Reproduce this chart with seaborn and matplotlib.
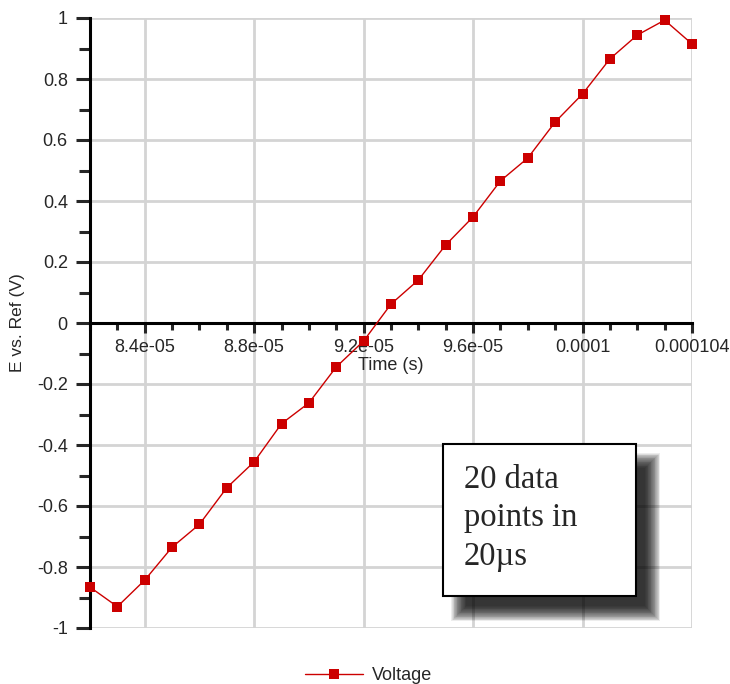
import matplotlib
matplotlib.use("Agg")
import matplotlib.pyplot as plt
from matplotlib.patches import Rectangle
from matplotlib.ticker import FixedLocator, FuncFormatter
import pandas as pd
import seaborn as sns

# values
time_s = [
    8.2e-05, 8.3e-05, 8.4e-05, 8.5e-05, 8.6e-05, 8.7e-05, 8.8e-05, 8.9e-05,
    9.0e-05, 9.1e-05, 9.2e-05, 9.3e-05, 9.4e-05, 9.5e-05, 9.6e-05, 9.7e-05,
    9.8e-05, 9.9e-05, 1.00e-04, 1.01e-04, 1.02e-04, 1.03e-04, 1.04e-04,
]
voltage = [
    -0.866, -0.930, -0.843, -0.735, -0.660, -0.540, -0.455, -0.330,
    -0.262, -0.144, -0.059, 0.062, 0.141, 0.256, 0.348, 0.466,
    0.541, 0.659, 0.751, 0.866, 0.944, 0.993, 0.915,
]
x_major = [8.4e-05, 8.8e-05, 9.2e-05, 9.6e-05, 1.0e-04, 1.04e-04]
y_major = [-1, -0.8, -0.6, -0.4, -0.2, 0, 0.2, 0.4, 0.6, 0.8, 1]
note_text = "20 data\npoints in\n20µs"

df = pd.DataFrame({"Time (s)": time_s, "Voltage": voltage})

sns.set_style("white")
plt.rcParams["font.family"] = ["Liberation Sans", "DejaVu Sans"]

fig = plt.figure(figsize=(7.3, 6.84), dpi=100)
ax = fig.add_axes([90 / 730, 56 / 684, 602 / 730, 610 / 684])

sns.lineplot(
    data=df, x="Time (s)", y="Voltage", ax=ax,
    color="#cc0000", linewidth=1.0, marker="s", markersize=7.5,
    markeredgewidth=0, label="Voltage", legend=False, zorder=5, clip_on=False,
)

ax.set_xlim(time_s[0], time_s[-1])
ax.set_ylim(-1, 1)

ax.xaxis.set_major_locator(FixedLocator(x_major))
ax.xaxis.set_minor_locator(FixedLocator(time_s))
ax.yaxis.set_major_locator(FixedLocator(y_major))
ax.yaxis.set_minor_locator(FixedLocator([v + 0.1 for v in y_major[:-1]]))
ax.xaxis.set_major_formatter(FuncFormatter(lambda v, p: f"{v:g}"))
ax.yaxis.set_major_formatter(FuncFormatter(lambda v, p: f"{round(v, 2):g}"))

for side in ["top", "right"]:
    ax.spines[side].set_visible(False)
ax.spines["bottom"].set_position(("data", 0))
for side in ["bottom", "left"]:
    ax.spines[side].set_linewidth(2.2)
    ax.spines[side].set_color("black")

ax.tick_params(axis="y", which="major", direction="out", length=10, width=2.2,
               labelsize=13, pad=6, left=True)
ax.tick_params(axis="y", which="minor", direction="out", length=8, width=2.2, left=True)
ax.tick_params(axis="x", which="major", direction="out", length=7.5, width=2.2,
               labelsize=13, pad=4, bottom=True)
ax.tick_params(axis="x", which="minor", direction="out", length=5, width=2.2, bottom=True)

ax.grid(True, which="major", color="#d4d4d4", linewidth=2)
ax.set_axisbelow(True)

ax.set_xlabel("Time (s)", fontsize=13)
ax.xaxis.set_label_coords(0.50, 0.445)
ax.set_ylabel("E vs. Ref (V)", fontsize=12.5)
ax.yaxis.set_label_coords(-0.108, 0.5)

# note box with a soft drop shadow
bx, by, bw, bh = 0.586, 0.052, 0.321, 0.25
dx, dy = 0.027, -0.028
blur = 0.026
n = 20
for i in range(n):
    inset = blur * i / n
    ax.add_patch(Rectangle(
        (bx + dx - blur / 2 + inset, by + dy - blur / 2 + inset),
        bw + blur - 2 * inset, bh + blur - 2 * inset,
        transform=ax.transAxes, facecolor="black", edgecolor="none",
        alpha=0.07, zorder=6, clip_on=False,
    ))
ax.add_patch(Rectangle(
    (bx, by), bw, bh, transform=ax.transAxes, facecolor="white",
    edgecolor="black", linewidth=1.5, zorder=7, clip_on=False,
))
ax.text(bx + 0.035, by + bh - 0.034, note_text, transform=ax.transAxes,
        ha="left", va="top", fontsize=23.5, linespacing=1.33,
        family=["Liberation Serif", "DejaVu Serif"], zorder=8)

handles, labels = ax.get_legend_handles_labels()
fig.legend(handles, labels, loc="lower center", bbox_to_anchor=(0.505, -0.024),
           frameon=False, fontsize=13, handlelength=3.2, handletextpad=0.5)

fig.savefig("out.png", dpi=100)
